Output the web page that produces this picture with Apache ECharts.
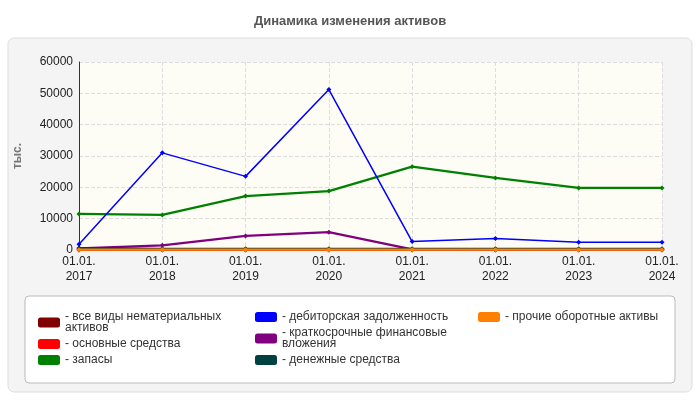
<!DOCTYPE html><html><head><meta charset="utf-8"><script src="https://cdn.jsdelivr.net/npm/echarts@6/dist/echarts.min.js"></script>
<style>body{margin:0}#c{width:700px;height:400px}</style></head><body><div id="c"></div><script>
var categories=['01.01.\n2017','01.01.\n2018','01.01.\n2019','01.01.\n2020','01.01.\n2021','01.01.\n2022','01.01.\n2023','01.01.\n2024'];
var intangible=[0,0,0,0,0,0,0,0];
var fixed=[100,100,100,100,100,100,100,100];
var inventory=[11500,11200,17200,18800,26600,23000,19800,19800];
var receivables=[1800,31000,23500,51200,2700,3700,2500,2500];
var investments=[500,1500,4500,5700,200,200,200,200];
var cash=[600,400,400,400,400,400,400,400];
var otherCurrent=[100,100,100,100,100,100,100,100];
var names=['все виды нематериальных\nактивов','основные средства','запасы','дебиторская задолженность','краткосрочные финансовые\nвложения','денежные средства','прочие оборотные активы'];
var colors=['#800000','#ff0000','#008000','#0000ff','#800080','#004040','#ff8000'];
var datas=[intangible,fixed,inventory,receivables,investments,cash,otherCurrent];
var series=datas.map(function(d,i){return {name:names[i],type:'line',data:d,symbol:'diamond',symbolSize:5,
 lineStyle:{width:(i==3?1.5:2.2),color:colors[i]},itemStyle:{color:colors[i]},z:(i==3?5:(i==6?6:3))};});
function leg(idx,left){return {data:idx.map(function(i){return names[i];}),orient:'vertical',left:left,top:306,itemWidth:22,itemHeight:10,itemGap:4,
  formatter:function(n){return '- '+n;},textStyle:{fontFamily:'Arial',fontSize:12,color:'#333',lineHeight:11},icon:'roundRect'};}
var chart=echarts.init(document.getElementById('c'));
chart.setOption({
 animation:false,
 title:{text:'Динамика изменения активов',left:'center',top:10,textStyle:{fontFamily:'Arial',fontSize:13,fontWeight:'bold',color:'#555'}},
 graphic:[{type:'rect',shape:{x:8,y:38,width:684,height:354,r:6},style:{fill:'#f4f4f4',stroke:'#ddd'},z:-10},
  {type:'rect',shape:{x:25,y:296,width:650,height:87,r:4},style:{fill:'#fff',stroke:'#bbb'},z:-9}],
 grid:{left:79,right:38,top:62,bottom:150,backgroundColor:'#fdfdf5',show:true,borderWidth:0},
 legend:[leg([0,1,2],33),leg([3,4,5],250),leg([6],473)],
 xAxis:{type:'category',boundaryGap:false,data:categories,axisLine:{lineStyle:{color:'#333'}},axisTick:{show:false},
  splitLine:{show:true,lineStyle:{type:'dashed',color:'#ddd'}},axisLabel:{fontFamily:'Arial',fontSize:12,color:'#222',lineHeight:15,margin:4}},
 yAxis:{type:'value',min:0,max:60000,interval:10000,name:'тыс.',nameLocation:'middle',nameGap:55,nameTextStyle:{color:'#777',fontWeight:'bold',fontSize:12},
  axisLine:{show:true,lineStyle:{color:'#333'}},axisTick:{show:false},splitLine:{lineStyle:{type:'dashed',color:'#ddd'}},
  axisLabel:{fontFamily:'Arial',fontSize:12,color:'#222',margin:6,formatter:function(v){return String(v);}}},
 series:series
});
</script></body></html>
